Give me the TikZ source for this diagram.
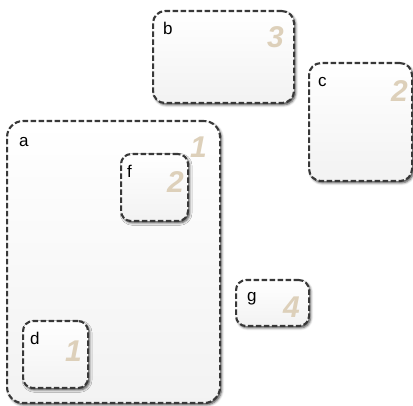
\documentclass[tikz,border=0pt]{standalone}
\usepackage{fontspec}
\setmainfont{Liberation Sans}
\usetikzlibrary{shadows.blur}
\definecolor{numcol}{HTML}{DDD0BA}
\definecolor{edgecol}{HTML}{383838}
\begin{document}
\begin{tikzpicture}[x=1pt,y=-1pt,
  stbox/.style={draw=edgecol, line width=2.1pt, dash pattern=on 5.5pt off 2.5pt,
    top color=white, bottom color=black!5, rounded corners=#1, inner sep=0pt,
    anchor=north west,
    blur shadow={shadow xshift=1.5pt, shadow yshift=-1.8pt, shadow blur radius=2.5pt, shadow opacity=75}},
  stbox/.default=12pt,
  lab/.style={anchor=base west, inner sep=0pt, font=\fontsize{17}{17}\selectfont},
  num/.style={anchor=base east, inner sep=0pt, text=numcol, font=\fontsize{30}{30}\selectfont\bfseries\itshape},
]
\useasboundingbox (0,0) rectangle (413,406);
% outer boxes
\node[stbox=16pt, minimum width=213pt, minimum height=282pt] (a) at (6,120) {};
\node[stbox=12pt, minimum width=141pt, minimum height=92pt] (b) at (152,10) {};
\node[stbox=12pt, minimum width=103pt, minimum height=118pt] (c) at (308,62) {};
\node[stbox=10pt, minimum width=73pt, minimum height=46pt] (g) at (235,279) {};
% inner boxes
\node[stbox=10pt, minimum width=67pt, minimum height=67pt] (f) at (120,153) {};
\node[stbox=10pt, minimum width=65pt, minimum height=67pt] (d) at (22,320) {};
% letters
\node[lab] (la) at ([shift={(13pt,-27pt)}]a.north west) {a};
\node[lab] (lb) at ([shift={(11pt,-25pt)}]b.north west) {b};
\node[lab] (lc) at ([shift={(10pt,-25pt)}]c.north west) {c};
\node[lab] (lf) at ([shift={(7pt,-25pt)}]f.north west) {f};
\node[lab] (ld) at ([shift={(8pt,-25pt)}]d.north west) {d};
\node[lab] (lg) at ([shift={(12pt,-23pt)}]g.north west) {g};
% numbers
\node[num] (na) at ([shift={(-14pt,-38pt)}]a.north east) {1};
\node[num] (nb) at ([shift={(-11pt,-38pt)}]b.north east) {3};
\node[num] (nc) at ([shift={(-5pt,-40pt)}]c.north east) {2};
\node[num] (nf) at ([shift={(-5pt,-40pt)}]f.north east) {2};
\node[num] (nd) at ([shift={(-7pt,-42pt)}]d.north east) {1};
\node[num] (ng) at ([shift={(-10pt,-39pt)}]g.north east) {4};
\end{tikzpicture}
\end{document}
